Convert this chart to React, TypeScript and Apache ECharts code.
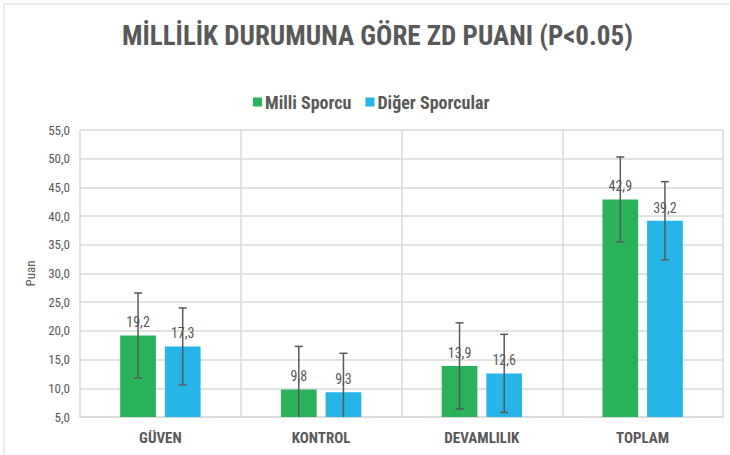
import React, { useEffect, useRef } from "react";
import * as echarts from "echarts";

const categories = ["GÜVEN", "KONTROL", "DEVAMLILIK", "TOPLAM"];
const seriesNames = ["Milli Sporcu", "Diğer Sporcular"];
const milliValues = [19.2, 9.8, 13.9, 42.9];
const digerValues = [17.3, 9.3, 12.6, 39.2];
const milliSD = [7.4, 7.5, 7.5, 7.4];
const digerSD = [6.7, 6.8, 6.8, 6.8];
const yMin = 5;
const yMax = 55;
const yStep = 5;

const FONT = "'Liberation Sans Narrow', 'Arial Narrow', 'Roboto Condensed', 'Liberation Sans', sans-serif";
const GREEN = "#2AB25A";
const BLUE = "#27B5E8";
const TEXT = "#595959";
const GRID = "#D9D9D9";

const fmt = (v: number) => v.toFixed(1).replace(".", ",");

export default function App() {
  const ref = useRef<HTMLDivElement>(null);
  useEffect(() => {
    if (!ref.current) return;
    const chart = echarts.init(ref.current, undefined, { renderer: "svg" });

    const errSeries = (vals: number[], sds: number[], side: number, name: string) => ({
      type: "custom",
      name: name + " err",
      z: 10,
      silent: true,
      data: vals.map((v, i) => [i, v, sds[i]]),
      renderItem: (params: any, api: any) => {
        const idx = api.value(0);
        const v = api.value(1);
        const sd = api.value(2);
        const band = api.size([1, 0])[0];
        const w = (band * 0.5) / 2.25;
        const off = side * 0.625 * w;
        const c = api.coord([idx, v]);
        const x = c[0] + off;
        const hiV = v + sd;
        const loV = v - sd;
        const yHi = api.coord([idx, Math.min(hiV, yMax)])[1];
        const yLo = api.coord([idx, Math.max(loV, yMin)])[1];
        const cap = 4;
        const style = { stroke: TEXT, lineWidth: 1.5 };
        const children: any[] = [
          { type: "line", shape: { x1: x, y1: yHi, x2: x, y2: yLo }, style },
        ];
        if (hiV <= yMax)
          children.push({ type: "line", shape: { x1: x - cap, y1: yHi, x2: x + cap, y2: yHi }, style });
        if (loV >= yMin)
          children.push({ type: "line", shape: { x1: x - cap, y1: yLo, x2: x + cap, y2: yLo }, style });
        return { type: "group", children };
      },
    });

    const barSeries = (name: string, vals: number[], color: string) => ({
      type: "bar",
      name,
      data: vals,
      barGap: "25%",
      barCategoryGap: "50%",
      itemStyle: { color },
      label: {
        show: true,
        position: "top",
        distance: 6,
        formatter: (p: any) => fmt(p.value),
        color: TEXT,
        fontFamily: FONT,
        fontSize: 14,
      },
    });

    chart.setOption({
      animation: false,
      backgroundColor: "#ffffff",
      graphic: [
        {
          type: "rect",
          shape: { x: 4, y: 4, width: 740, height: 470 },
          style: { fill: "none", stroke: GRID, lineWidth: 1 },
          silent: true,
        },
      ],
      title: {
        text: "MİLLİLİK DURUMUNA GÖRE ZD PUANI (P<0.05)",
        left: 117,
        top: 17,
        textStyle: { fontFamily: FONT, fontSize: 27, fontWeight: "bold", color: TEXT },
      },
      legend: {
        top: 88,
        left: 248,
        itemWidth: 9,
        itemHeight: 9,
        itemGap: 14,
        icon: "rect",
        data: seriesNames,
        textStyle: { fontFamily: FONT, fontSize: 18, fontWeight: "bold", color: TEXT, padding: [0, 0, 0, -2] },
      },
      grid: { left: 80, right: 7, top: 130, bottom: 38 },
      xAxis: {
        type: "category",
        data: categories,
        axisLine: { lineStyle: { color: GRID, width: 1.5 } },
        axisTick: { show: false },
        splitLine: { show: true, lineStyle: { color: GRID, width: 1.5 } },
        axisLabel: { fontFamily: FONT, fontSize: 15, fontWeight: "bold", color: TEXT, margin: 13 },
      },
      yAxis: {
        type: "value",
        min: yMin,
        max: yMax,
        interval: yStep,
        name: "Puan",
        nameLocation: "middle",
        nameGap: 42,
        nameTextStyle: { fontFamily: FONT, fontSize: 13, color: TEXT },
        axisLine: { show: false },
        axisTick: { show: false },
        splitLine: { lineStyle: { color: GRID, width: 1.5 } },
        axisLabel: { formatter: (v: number) => fmt(v), fontFamily: FONT, fontSize: 13, color: TEXT, margin: 10 },
      },
      series: [
        barSeries(seriesNames[0], milliValues, GREEN),
        barSeries(seriesNames[1], digerValues, BLUE),
        errSeries(milliValues, milliSD, -1, seriesNames[0]),
        errSeries(digerValues, digerSD, 1, seriesNames[1]),
      ],
    });
    return () => chart.dispose();
  }, []);
  return (
    <div
      ref={ref}
      style={{ position: "absolute", left: 0, top: 0, width: 730, height: 455 }}
    />
  );
}
